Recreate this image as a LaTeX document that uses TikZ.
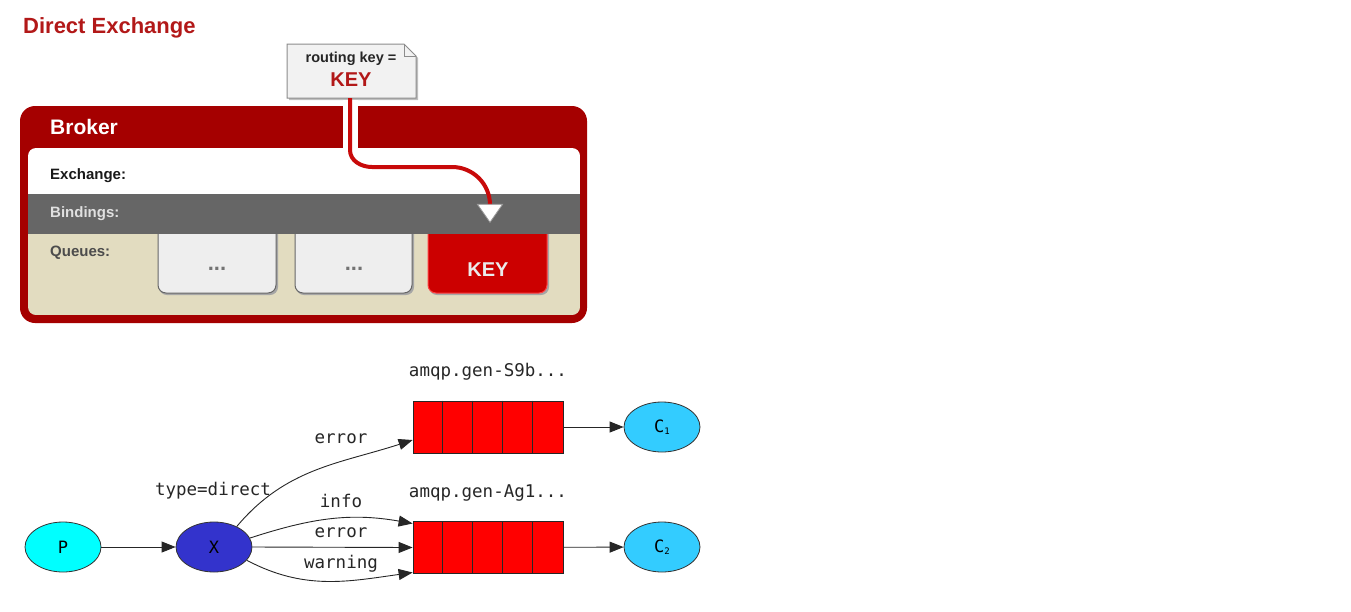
\documentclass[tikz,border=0pt]{standalone}
\usepackage{fontspec}
\setmainfont{Liberation Sans}
\newfontfamily\monof{DejaVu Sans Mono}
\usetikzlibrary{shapes.geometric,arrows.meta}
\definecolor{titlered}{RGB}{178,24,24}
\definecolor{brokerred}{RGB}{165,0,0}
\definecolor{bindgray}{RGB}{102,102,102}
\definecolor{beige}{RGB}{226,220,192}
\definecolor{boxgray}{RGB}{238,238,238}
\definecolor{keyred}{RGB}{204,0,0}
\definecolor{routered}{RGB}{200,10,10}
\definecolor{pcyan}{RGB}{0,255,255}
\definecolor{xblue}{RGB}{51,51,204}
\definecolor{cblue}{RGB}{51,204,255}
\definecolor{qred}{RGB}{255,0,0}
\tikzset{
  bandlabel/.style={anchor=west,font=\bfseries\fontsize{15}{15}\selectfont,inner sep=0},
  qbox/.style={draw=gray!80!black,fill=boxgray,line width=1pt,rounded corners=8pt},
  graphnode/.style={ellipse,draw=black!80,line width=0.8pt,minimum width=76pt,minimum height=50pt,inner sep=0,font=\monof\fontsize{17}{17}\selectfont},
  queue/.style={draw=black!85,fill=qred,line width=0.8pt,minimum width=150pt,minimum height=52pt,inner sep=0},
  edge/.style={draw=black!85,line width=0.9pt,-{Triangle[length=14pt,width=11pt]}},
  elabel/.style={font=\monof\fontsize{17.5}{17.5}\selectfont,text=black!85,inner sep=0},
  dotsstyle/.style={font=\bfseries\fontsize{22}{22}\selectfont,text=gray!90!black,inner sep=0},
}
\begin{document}
\begin{tikzpicture}[x=1pt,y=-1pt]
\useasboundingbox (0,0) rectangle (1351,611);
% title
\node[anchor=west,inner sep=0,text=titlered,font=\bfseries\fontsize{22}{22}\selectfont] (title) at (23,27.5) {Direct Exchange};
% broker
\fill[brokerred,rounded corners=15pt] (20,106) rectangle (587,323);
\node[anchor=west,inner sep=0,text=white,font=\bfseries\fontsize{21}{21}\selectfont] (broker) at (50,127) {Broker};
\begin{scope}
  \clip[rounded corners=8pt] (28,148) rectangle (580,315);
  \fill[white] (28,148) rectangle (580,194);
  \fill[beige] (28,234) rectangle (580,315);
  % queue boxes
  \fill[black!35,rounded corners=8pt] (159,222) rectangle (278,295);
  \filldraw[qbox] (158,220) rectangle (276,293);
  \fill[black!35,rounded corners=8pt] (296,222) rectangle (414,295);
  \filldraw[qbox] (295,220) rectangle (412,293);
  \fill[black!35,rounded corners=8pt] (429,222) rectangle (549,295);
  \filldraw[draw=red!75!white,fill=keyred,line width=1pt,rounded corners=8pt] (428,220) rectangle (547,293);
  \fill[bindgray] (28,194) rectangle (580,234);
\end{scope}
\node[dotsstyle] (dots1) at (217,269) {...};
\node[dotsstyle] (dots2) at (354,269) {...};
\node[font=\bfseries\fontsize{20}{20}\selectfont,text=white!92!black,inner sep=0] (keyq) at (488,270) {KEY};
\node[bandlabel,text=black!90] (exl) at (50,175.5) {Exchange:};
\node[bandlabel,text=white!88!black] (bil) at (50,213.5) {Bindings:};
\node[bandlabel,text=black!70] (qul) at (50,252.5) {Queues:};
% note
\filldraw[fill=black!25,draw=none] (289,46) -- (406,46) -- (418,58) -- (418,100) -- (289,100) -- cycle;
\filldraw[fill=black!5,draw=black!45,line width=1pt] (287,44) -- (404,44) -- (416,56) -- (416,98) -- (287,98) -- cycle;
\draw[black!45,line width=0.8pt] (404,44) -- (404,56) -- (416,56);
\node[inner sep=0,font=\bfseries\fontsize{14.5}{14.5}\selectfont,text=black!85] (rk) at (351,59) {routing key =};
\node[inner sep=0,font=\bfseries\fontsize{20}{20}\selectfont,text=titlered] (rkey) at (351,79.5) {KEY};
\coordinate (rstart) at (350,98);
\coordinate (rend) at (490,205);
% routing line halo in header
\begin{scope}
  \clip (20,100) rectangle (587,148);
  \draw[white,line width=15pt] (rstart) -- (350,160);
\end{scope}
\draw[routered,line width=4pt] (rstart) -- (350,150) to[out=-90,in=180] (372,167) -- (452,167) to[out=0,in=90] (rend);
% triangle
\node[isosceles triangle,shape border rotate=-90,isosceles triangle apex angle=70,draw=black!40,fill=white,line width=0.8pt,minimum height=18pt,inner sep=0,anchor=apex] (tri) at (490,223) {};
% ---- bottom graph ----
\node[graphnode,fill=pcyan] (P) at (63,547) {P};
\node[graphnode,fill=xblue] (X) at (214,547) {X};
\node[graphnode,fill=cblue] (C1) at (662,427) {C\raisebox{-0.15em}{\fontsize{9}{9}\selectfont 1}};
\node[graphnode,fill=cblue] (C2) at (662,547) {C\raisebox{-0.15em}{\fontsize{9}{9}\selectfont 2}};
\node[queue] (Q1) at (488,427) {};
\node[queue] (Q2) at (488,547.5) {};
\foreach \q in {Q1,Q2}{
  \foreach \i in {1,2,3,4}{
    \draw[black!85,line width=0.8pt] ([xshift=\i*30pt]\q.north west) -- ([xshift=\i*30pt]\q.south west);
  }
}
\node[elabel] (q1l) at (488,372) {amqp.gen-S9b...};
\node[elabel] (q2l) at (488,493) {amqp.gen-Ag1...};
\node[elabel] (tl) at (213,491) {type=direct};
\draw[edge] (P) -- (X);
\draw[edge] (Q1) -- (C1);
\draw[edge] (Q2) -- (C2);
\draw[edge] (X.42) to[out=50,in=198] ([yshift=-13pt]Q1.west);
\draw[edge] (X.14) to[out=18,in=170] ([yshift=24pt]Q2.west);
\draw[edge] (X.east) -- (Q2.west);
\draw[edge] (X.-22) to[out=-28,in=188] ([yshift=-25pt]Q2.west);
\node[elabel] (l1) at (341,438.5) {error};
\node[elabel] (l2) at (341,501) {info};
\node[elabel] (l3) at (341,533) {error};
\node[elabel] (l4) at (341,564) {warning};
\end{tikzpicture}
\end{document}
